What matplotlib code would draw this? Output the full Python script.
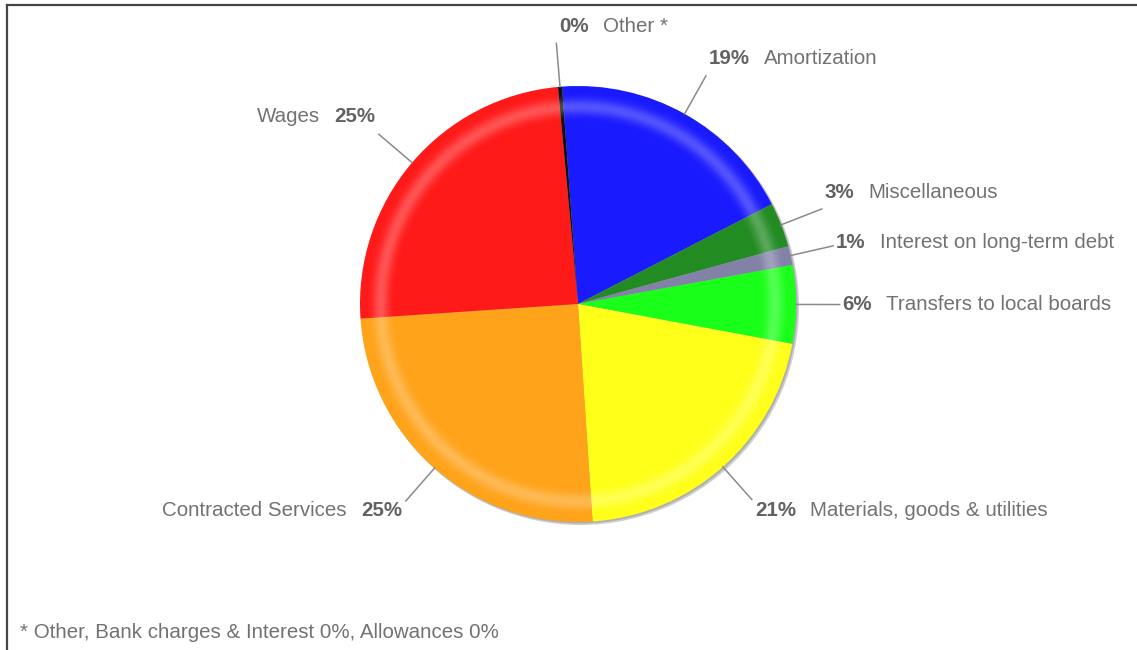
import numpy as np
import matplotlib
matplotlib.use("Agg")
import matplotlib.pyplot as plt
from matplotlib.patches import Wedge, Circle
from matplotlib.lines import Line2D

# ---------------- data ----------------
categories = ["Amortization", "Miscellaneous", "Interest on long-term debt",
              "Transfers to local boards", "Materials, goods & utilities",
              "Contracted Services", "Wages", "Other *"]
values = [18.6, 3.3, 1.4, 5.8, 21.0, 25.0, 24.6, 0.3]
colors = ["#1a1aff", "#228b22", "#8282a8", "#1aff1a", "#ffff1a",
          "#ffa31a", "#ff1a1a", "#111111"]
footnote = "* Other, Bank charges & Interest 0%, Allowances 0%"

# ---------------- layout ----------------
label_cy_px = [58, 192, 242, 304, 510, 511, 117, 26]
label_side = ["right", "right", "right", "right", "right", "left", "left", "right"]

plt.rcParams["font.family"] = ["Liberation Sans", "DejaVu Sans"]
FS = 14.8
NAME_C = "#727272"
PCT_C = "#626262"

W, H = 1137, 650
fig = plt.figure(figsize=(W / 100, H / 100), dpi=100)
ax = fig.add_axes([0, 0, 1, 1])

cx, cy = 578, H - 304
R = 218

# shadow
ax.add_patch(Circle((cx + 2.5, cy - 2.5), R + 0.5, color="#c4c4c4", alpha=0.8, lw=0, zorder=0.5))
ax.add_patch(Circle((cx + 1.5, cy - 1.5), R, color="#a8a8a8", alpha=0.8, lw=0, zorder=0.6))

wedges, _ = ax.pie(values, colors=colors, startangle=94.2, counterclock=False,
                   radius=R, center=(cx, cy), wedgeprops=dict(linewidth=0))
for w in wedges:
    w.set_zorder(1)

# highlight ring (gradient imitation)
rs = np.linspace(0.78, 1.0, 80)
dr = rs[1] - rs[0]
for r in rs:
    a = 0.26 * np.exp(-((r - 0.905) / 0.035) ** 2)
    if a > 0.008:
        ax.add_patch(Wedge((cx, cy), r * R + dr * R * 0.5, 0, 360, width=dr * R * 1.05,
                           facecolor="white", alpha=a, lw=0, zorder=2))

ax.set_xlim(0, W)
ax.set_ylim(0, H)
ax.axis("off")

renderer = fig.canvas.get_renderer()
GAP = 14
for i, w in enumerate(wedges):
    mid = np.deg2rad((w.theta1 + w.theta2) / 2)
    sx, sy = cx + R * np.cos(mid), cy + R * np.sin(mid)
    ex, ey = cx + 1.2 * R * np.cos(mid), cy + 1.2 * R * np.sin(mid)
    ax.add_line(Line2D([sx, ex], [sy, ey], color="#8a8a8a", lw=1.1, zorder=3))
    pct = f"{values[i]:.0f}%"
    ty = H - label_cy_px[i]
    if label_side[i] == "right":
        x0 = ex + 3
        t1 = ax.text(x0, ty, pct, fontsize=FS, fontweight="bold", color=PCT_C,
                     ha="left", va="center")
        wd = t1.get_window_extent(renderer).width
        ax.text(x0 + wd + GAP, ty, categories[i], fontsize=FS, color=NAME_C,
                ha="left", va="center")
    else:
        xr = ex - 4
        t1 = ax.text(xr, ty, pct, fontsize=FS, fontweight="bold", color=PCT_C,
                     ha="right", va="center")
        wd = t1.get_window_extent(renderer).width
        ax.text(xr - wd - GAP, ty, categories[i], fontsize=FS, color=NAME_C,
                ha="right", va="center")

ax.text(20, H - 632, footnote, fontsize=FS, color=NAME_C, ha="left", va="center")

# frame (top and left border)
fig.add_artist(Line2D([6.5 / W, 1.0], [1 - 4.5 / H, 1 - 4.5 / H], color="#454545", lw=1.6))
fig.add_artist(Line2D([6.5 / W, 6.5 / W], [0, 1 - 4.5 / H], color="#454545", lw=1.6))

fig.savefig("out.png", dpi=100)
